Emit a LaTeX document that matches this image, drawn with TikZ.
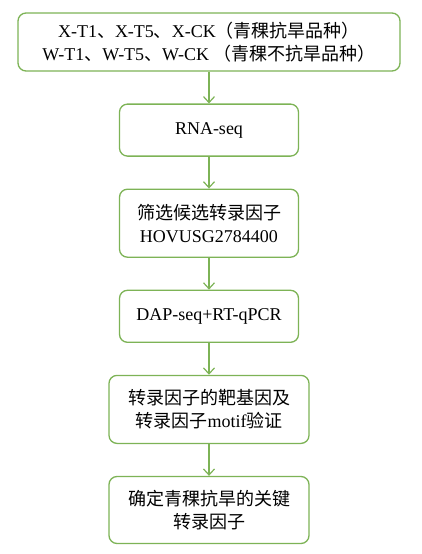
\documentclass[tikz,border=0pt]{standalone}
\usepackage{fontspec}
\setmainfont{Liberation Serif}
\newfontfamily\cjk{Noto Sans CJK SC}
\usetikzlibrary{arrows.meta,positioning}
\definecolor{FlowGreen}{HTML}{7DB356}
\newcommand{\zh}[1]{{\cjk #1}}
\tikzset{
  flowbox/.style={
    draw=FlowGreen,
    fill=white,
    line width=1.3pt,
    rounded corners=8pt,
    align=center,
    inner sep=2pt,
    font=\fontsize{18}{23}\selectfont
  },
  flowarrow/.style={-{Straight Barb[length=6pt,width=11pt]},draw=FlowGreen,line width=1.2pt}
}
\begin{document}
\begin{tikzpicture}[x=1pt,y=1pt,node distance=31.8pt]
  \useasboundingbox (0,0) rectangle (421,-554);
  \node[flowbox,minimum width=382pt,minimum height=58pt] (samples) at (209,-42)
    {X-T1\zh{、}X-T5\zh{、}X-CK\zh{（青稞抗旱品种）}\\W-T1\zh{、}W-T5\zh{、}W-CK \zh{（青稞不抗旱品种）}};
  \node[flowbox,below=of samples,minimum width=179pt,minimum height=52pt] (rnaseq) {RNA-seq};
  \node[flowbox,below=of rnaseq,minimum width=179pt,minimum height=68pt] (screen)
    {\zh{筛选候选转录因子}\\HOVUSG2784400};
  \node[flowbox,below=of screen,minimum width=179pt,minimum height=52pt] (dapseq) {DAP-seq+RT-qPCR};
  \node[flowbox,below=of dapseq,minimum width=200pt,minimum height=68pt] (verify)
    {\zh{转录因子的靶基因及}\\\zh{转录因子}motif\zh{验证}};
  \node[flowbox,below=of verify,minimum width=200pt,minimum height=67pt] (keytf)
    {\zh{确定青稞抗旱的关键}\\\zh{转录因子}};
  \draw[flowarrow] (samples) -- (rnaseq);
  \draw[flowarrow] (rnaseq) -- (screen);
  \draw[flowarrow] (screen) -- (dapseq);
  \draw[flowarrow] (dapseq) -- (verify);
  \draw[flowarrow] (verify) -- (keytf);
\end{tikzpicture}
\end{document}
